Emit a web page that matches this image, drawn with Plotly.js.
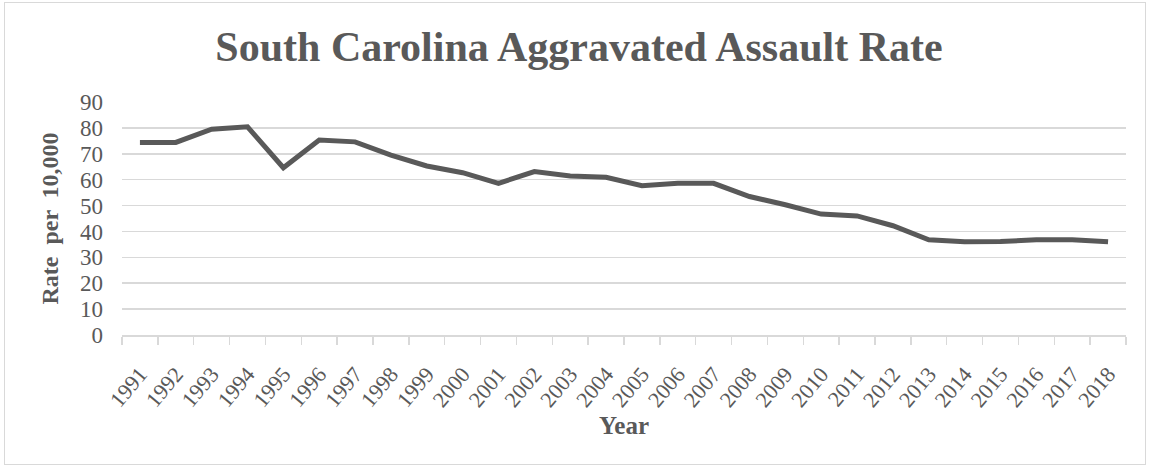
<!DOCTYPE html>
<html>
<head>
<meta charset="utf-8">
<script src="https://cdn.plot.ly/plotly-3.0.1.min.js"></script>
<style>
  html, body { margin: 0; padding: 0; background: #ffffff; }
  #wrap { position: relative; width: 1151px; height: 469px; }
  #chart { width: 1151px; height: 469px; }
  #frame { position: absolute; left: 4px; top: 2px; width: 1142px; height: 463px;
           border: 1px solid #d9d9d9; pointer-events: none; box-sizing: border-box; }
</style>
</head>
<body>
<div id="wrap">
  <div id="chart"></div>
  <div id="frame"></div>
</div>
<script>
const years = ["1991","1992","1993","1994","1995","1996","1997","1998","1999","2000",
               "2001","2002","2003","2004","2005","2006","2007","2008","2009","2010",
               "2011","2012","2013","2014","2015","2016","2017","2018"];
const rates = [74.4, 74.4, 79.5, 80.4, 64.6, 75.3, 74.6, 69.5, 65.3, 62.7,
               58.6, 63.1, 61.4, 60.9, 57.7, 58.6, 58.6, 53.5, 50.3, 46.7,
               46.0, 42.2, 36.8, 36.0, 36.1, 36.8, 36.8, 36.0];
const yTicks = [0, 10, 20, 30, 40, 50, 60, 70, 80, 90];

const FONT = "Liberation Serif, Times New Roman, serif";
const GRAY = "#595959";

const trace = {
  type: "scatter",
  mode: "lines",
  x: years,
  y: rates,
  line: { color: GRAY, width: 5 },
  hoverinfo: "x+y"
};

const layout = {
  width: 1151,
  height: 469,
  paper_bgcolor: "#ffffff",
  plot_bgcolor: "#ffffff",
  margin: { l: 122, r: 25, t: 102, b: 134, pad: 0 },
  showlegend: false,
  font: { family: FONT, color: GRAY, size: 20 },
  title: {
    text: "<b>South Carolina Aggravated Assault Rate</b>",
    font: { family: FONT, size: 42, color: GRAY },
    x: 579 / 1151, xref: "container", xanchor: "center",
    y: 1 - 46 / 469, yref: "container", yanchor: "middle"
  },
  xaxis: {
    type: "category",
    range: [-0.5, years.length - 0.5],
    tickson: "boundaries",
    ticks: "outside",
    ticklen: 8,
    tickwidth: 1.5,
    tickcolor: "#d9d9d9",
    showline: true,
    linecolor: "#d9d9d9",
    linewidth: 1.5,
    showgrid: false,
    zeroline: false,
    tickangle: -50,
    ticklabelstandoff: 16,
    tickfont: { family: FONT, size: 22, color: GRAY },
    title: {
      text: "<b>Year</b>",
      font: { family: FONT, size: 25, color: GRAY },
      standoff: 5
    },
    fixedrange: true
  },
  yaxis: {
    range: [0, 90],
    tickvals: yTicks,
    ticktext: yTicks.map(String),
    showgrid: true,
    gridcolor: "#d9d9d9",
    gridwidth: 1.5,
    zeroline: false,
    showline: false,
    ticks: "",
    ticklabelstandoff: 18,
    tickfont: { family: FONT, size: 23, color: GRAY },
    title: {
      text: "<b>Rate  per  10,000</b>",
      font: { family: FONT, size: 24, color: GRAY },
      standoff: 14
    },
    fixedrange: true
  }
};

Plotly.newPlot("chart", [trace], layout, { displayModeBar: false, staticPlot: true });
</script>
</body>
</html>
